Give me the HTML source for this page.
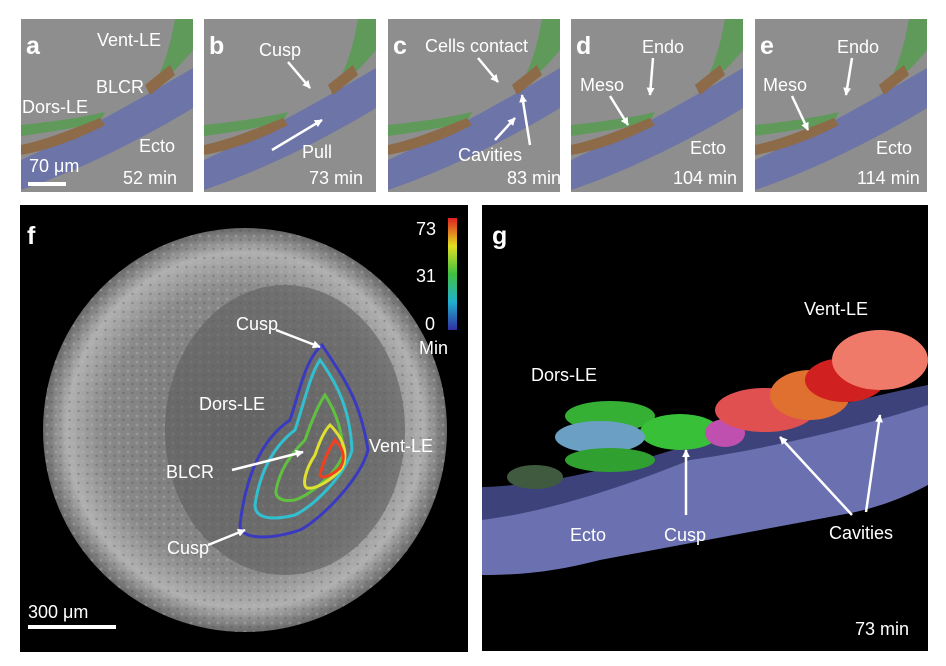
<!DOCTYPE html>
<html><head><meta charset="utf-8"><style>
html,body{margin:0;padding:0;background:#fff}
svg{display:block}
text{font-family:"Liberation Sans",Arial,sans-serif}
</style></head><body>
<svg width="946" height="666" viewBox="0 0 946 666" xmlns="http://www.w3.org/2000/svg">
<defs>
<marker id="ah" viewBox="0 0 10 10" refX="9" refY="5" markerWidth="3.2" markerHeight="3.2" orient="auto"><path d="M0,0L10,5L0,10z" fill="#fff"/></marker>
<radialGradient id="disc" cx="50%" cy="50%" r="50%"><stop offset="0" stop-color="#6e6e6e"/><stop offset="0.7" stop-color="#8a8a8a"/><stop offset="0.88" stop-color="#b0b0b0"/><stop offset="1" stop-color="#6a6a6a"/></radialGradient>
<linearGradient id="cbar" x1="0" y1="1" x2="0" y2="0"><stop offset="0" stop-color="#3030a0"/><stop offset="0.25" stop-color="#20b0d0"/><stop offset="0.5" stop-color="#40c040"/><stop offset="0.75" stop-color="#e0e020"/><stop offset="1" stop-color="#e02020"/></linearGradient>
<pattern id="tex" width="9" height="9" patternUnits="userSpaceOnUse"><circle cx="2" cy="2" r="1.5" fill="#bbb" opacity="0.35"/><circle cx="6.5" cy="6" r="1.2" fill="#444" opacity="0.3"/></pattern>
</defs>

<g id="pa">
<rect x="21" y="19" width="172" height="173" fill="#8e8e8e"/>
<path d="M21,160 C70,138 130,105 193,68 L193,108 C140,140 80,170 21,190z" fill="#6c74a8"/>
<path d="M21,125 C50,122 80,118 105,112 L100,122 C75,128 50,132 21,136z" fill="#5f9a5a"/>
<path d="M175,19 L193,19 L193,50 C185,60 175,70 165,80 L160,72 C168,55 172,35 175,19z" fill="#5f9a5a"/>
<path d="M21,145 C45,140 70,130 100,118 L105,125 C80,138 50,150 21,155z M145,85 L170,65 L175,75 L150,95z" fill="#8d6a48"/>
</g>
<use href="#pa" transform="translate(183,0)"/>
<use href="#pa" transform="translate(367,0)"/>
<use href="#pa" transform="translate(550,0)"/>
<use href="#pa" transform="translate(734,0)"/>
<rect x="28" y="182" width="38" height="4" fill="#fff"/>

<g fill="#fff" font-size="18">
<text x="26" y="54" font-weight="bold" font-size="25">a</text>
<text x="97" y="46">Vent-LE</text><text x="96" y="93">BLCR</text><text x="22" y="113">Dors-LE</text>
<text x="139" y="152">Ecto</text><text x="29" y="172">70 μm</text><text x="123" y="184">52 min</text>
<text x="209" y="54" font-weight="bold" font-size="25">b</text>
<text x="259" y="56">Cusp</text><text x="302" y="158">Pull</text><text x="309" y="184">73 min</text>
<text x="393" y="54" font-weight="bold" font-size="25">c</text>
<text x="425" y="52">Cells contact</text><text x="458" y="161">Cavities</text><text x="507" y="184">83 min</text>
<text x="576" y="54" font-weight="bold" font-size="25">d</text>
<text x="642" y="53">Endo</text><text x="580" y="91">Meso</text><text x="690" y="154">Ecto</text><text x="673" y="184">104 min</text>
<text x="760" y="54" font-weight="bold" font-size="25">e</text>
<text x="837" y="53">Endo</text><text x="763" y="91">Meso</text><text x="876" y="154">Ecto</text><text x="857" y="184">114 min</text>
</g>
<g stroke="#fff" stroke-width="2.5" fill="none" marker-end="url(#ah)">
<line x1="288" y1="62" x2="310" y2="88"/><line x1="272" y1="150" x2="322" y2="120"/>
<line x1="478" y1="58" x2="498" y2="82"/><line x1="495" y1="140" x2="515" y2="118"/><line x1="530" y1="145" x2="522" y2="95"/>
<line x1="653" y1="58" x2="650" y2="95"/><line x1="610" y1="96" x2="628" y2="125"/>
<line x1="852" y1="58" x2="846" y2="95"/><line x1="792" y1="96" x2="808" y2="130"/>
</g>

<rect x="20" y="205" width="448" height="447" fill="#000"/>
<circle cx="245" cy="430" r="202" fill="url(#disc)"/>
<circle cx="245" cy="430" r="202" fill="url(#tex)"/>
<ellipse cx="285" cy="430" rx="120" ry="145" fill="#5e5e5e" opacity="0.6"/>
<g fill="none" stroke-width="3">
<path d="M322,345 C345,380 360,400 368,450 C360,480 320,520 300,530 C270,540 240,540 240,525 C245,480 260,440 290,420 C300,390 305,360 322,345z" stroke="#3a3ac0"/>
<path d="M320,360 C338,385 350,410 352,450 C345,475 315,505 295,515 C275,520 255,520 255,505 C260,470 275,445 295,430 C305,400 310,375 320,360z" stroke="#30c0d0"/>
<path d="M325,395 C338,415 343,435 343,455 C335,475 310,495 295,500 C282,502 275,498 276,490 C280,470 290,455 305,440 C312,420 318,405 325,395z" stroke="#60c040"/>
<path d="M330,425 C345,440 348,455 342,468 C332,480 315,490 307,488 C302,485 305,470 315,455 C320,440 325,430 330,425z" stroke="#e0e030"/>
<path d="M335,440 C345,450 345,460 340,468 C332,475 322,480 320,475 C322,465 328,450 335,440z" stroke="#f04020"/>
</g>
<rect x="448" y="218" width="9" height="112" fill="url(#cbar)"/>
<g fill="#fff" font-size="18">
<text x="27" y="244" font-weight="bold" font-size="25">f</text>
<text x="416" y="235">73</text><text x="416" y="282">31</text><text x="425" y="330">0</text><text x="419" y="354">Min</text>
<text x="236" y="330">Cusp</text><text x="199" y="410">Dors-LE</text><text x="369" y="452">Vent-LE</text>
<text x="166" y="478">BLCR</text><text x="167" y="554">Cusp</text><text x="28" y="618">300 μm</text>
</g>
<rect x="28" y="625" width="88" height="4" fill="#fff"/>
<g stroke="#fff" stroke-width="2.5" fill="none" marker-end="url(#ah)">
<line x1="276" y1="330" x2="320" y2="347"/><line x1="232" y1="470" x2="303" y2="452"/><line x1="208" y1="545" x2="245" y2="530"/>
</g>

<rect x="482" y="205" width="446" height="446" fill="#000"/>
<path d="M482,487 C520,490 560,485 600,475 C640,465 680,450 700,445 C760,440 820,420 860,410 C890,400 910,392 928,385 L928,485 C900,500 870,510 840,515 C760,530 680,545 600,560 C560,570 530,575 482,575z" fill="#6a70b0"/>
<path d="M482,487 C560,485 640,460 690,445 C760,425 850,400 928,385 L928,405 C850,430 760,450 690,460 C640,480 560,510 482,520z" fill="#3d437a"/>
<ellipse cx="610" cy="416" rx="45" ry="15" fill="#35b035"/>
<ellipse cx="680" cy="432" rx="40" ry="18" fill="#38c038"/>
<ellipse cx="600" cy="437" rx="45" ry="16" fill="#6ba0c4"/>
<ellipse cx="610" cy="460" rx="45" ry="12" fill="#30a030"/>
<ellipse cx="535" cy="477" rx="28" ry="12" fill="#3f5a3f"/>
<ellipse cx="725" cy="433" rx="20" ry="14" fill="#c050b0"/>
<ellipse cx="765" cy="410" rx="50" ry="22" fill="#e05050"/>
<ellipse cx="810" cy="395" rx="40" ry="25" fill="#e07030"/>
<ellipse cx="845" cy="380" rx="40" ry="22" fill="#d02020"/>
<ellipse cx="880" cy="360" rx="48" ry="30" fill="#f07a6a"/>
<g fill="#fff" font-size="18">
<text x="492" y="244" font-weight="bold" font-size="25">g</text>
<text x="804" y="315">Vent-LE</text><text x="531" y="381">Dors-LE</text>
<text x="570" y="541">Ecto</text><text x="664" y="541">Cusp</text><text x="829" y="539">Cavities</text>
<text x="855" y="635">73 min</text>
</g>
<g stroke="#fff" stroke-width="2.5" fill="none" marker-end="url(#ah)">
<line x1="686" y1="515" x2="686" y2="450"/><line x1="852" y1="515" x2="780" y2="437"/><line x1="866" y1="512" x2="880" y2="415"/>
</g>
</svg>
</body></html>
